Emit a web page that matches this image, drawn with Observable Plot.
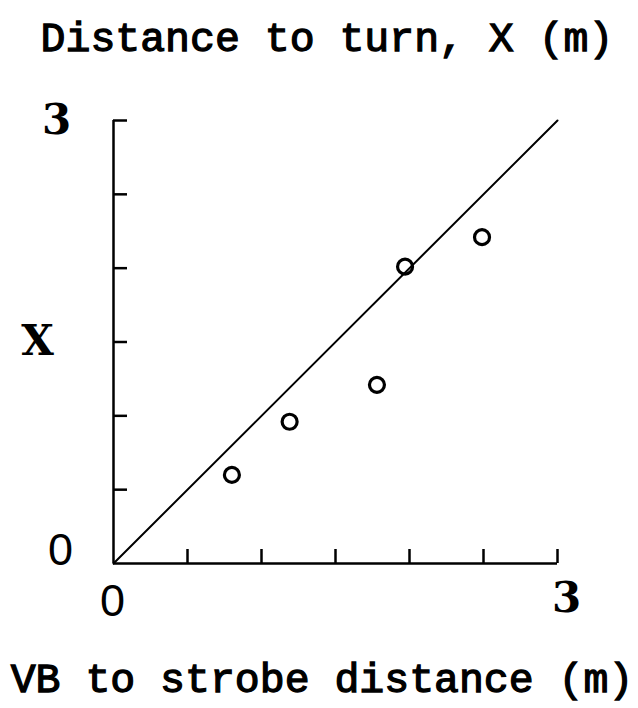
<!DOCTYPE html>
<html>
<head>
<meta charset="utf-8">
<script src="https://cdn.jsdelivr.net/npm/d3@7"></script>
<script src="https://cdn.jsdelivr.net/npm/@observablehq/plot@0.6"></script>
<style>
  body { margin: 0; background: #fff; width: 638px; }
  .title, .caption {
    font-family: "Liberation Mono", monospace;
    font-weight: normal;
    font-size: 41.5px;
    color: #000;
    -webkit-text-stroke: 1.3px #000;
    white-space: nowrap;
  }
  .title { height: 80px; line-height: 80px; padding-left: 16px; text-align: center; }
  .caption { height: 83px; line-height: 83px; padding-left: 6px; text-align: center; box-sizing: border-box; padding-top: 14px; }
  #chart svg { display: block; }
</style>
</head>
<body>
<div class="title">Distance to turn, X (m)</div>
<div id="chart"></div>
<div class="caption">VB to strobe distance (m)</div>
<script>
// VB to strobe distance (m) and the measured distance to turn X (m)
const strobeDistance = [0.80, 1.19, 1.78, 1.97, 2.49];
const turnDistance   = [0.60, 0.96, 1.21, 2.01, 2.21];

// axis extent, minor tick positions and the labelled ends
const axisDomain = [0, 3];
const tickValues = [0.5, 1, 1.5, 2, 2.5, 3];
const zeroLabel = [0];
const endLabel = [3];
const yAxisName = ["X"];
const yAxisNameAt = [1.5];

// reference line X = distance
const unityLine = [0, 3];

const points = strobeDistance.map((x, i) => ({x, y: turnDistance[i]}));
const unity = unityLine.map(v => ({x: v, y: v}));

const chart = Plot.plot({
  width: 638,
  height: 545,
  marginLeft: 113,
  marginRight: 81,
  marginTop: 40,
  marginBottom: 62,
  style: { background: "#fff", color: "#000" },
  x: { domain: axisDomain, axis: null },
  y: { domain: axisDomain, axis: null },
  marks: [
    // axis lines
    Plot.ruleX([0], { y1: axisDomain[0], y2: axisDomain[1], strokeWidth: 2.5, stroke: "#000" }),
    Plot.ruleY([0], { x1: axisDomain[0], x2: axisDomain[1], strokeWidth: 2.5, stroke: "#000" }),
    // inward ticks
    Plot.ruleX(tickValues, { x: d => d, y1: 0, y2: 0, insetTop: -14, strokeWidth: 2.5, stroke: "#000" }),
    Plot.ruleY(tickValues, { y: d => d, x1: 0, x2: 0, insetRight: -14, strokeWidth: 2.5, stroke: "#000" }),
    // unity line
    Plot.line(unity, { x: "x", y: "y", stroke: "#000", strokeWidth: 2 }),
    // observations
    Plot.dot(points, { x: "x", y: "y", r: 7.5, fill: "none", stroke: "#000", strokeWidth: 3.2 }),
    // tick labels
    Plot.text(endLabel, { x: 0, y: d => d, text: d => String(d), dx: -57, fontFamily: "DejaVu Serif", fontWeight: "bold", fontSize: 42, fill: "#000" }),
    Plot.text(zeroLabel, { x: 0, y: d => d, text: d => String(d), dx: -53, dy: -13, fontFamily: "Liberation Sans", fontSize: 45, fill: "#000" }),
    Plot.text(zeroLabel, { x: d => d, y: 0, text: d => String(d), dx: -1, dy: 38, fontFamily: "Liberation Sans", fontSize: 45, fill: "#000" }),
    Plot.text(endLabel, { x: d => d, y: 0, text: d => String(d), dx: 9, dy: 35, fontFamily: "DejaVu Serif", fontWeight: "bold", fontSize: 42, fill: "#000" }),
    Plot.text(yAxisName, { x: 0, y: (d, i) => yAxisNameAt[i], text: d => d, dx: -76, fontFamily: "DejaVu Serif", fontWeight: "bold", fontSize: 42, fill: "#000" })
  ]
});

document.getElementById("chart").appendChild(chart);
</script>
</body>
</html>
